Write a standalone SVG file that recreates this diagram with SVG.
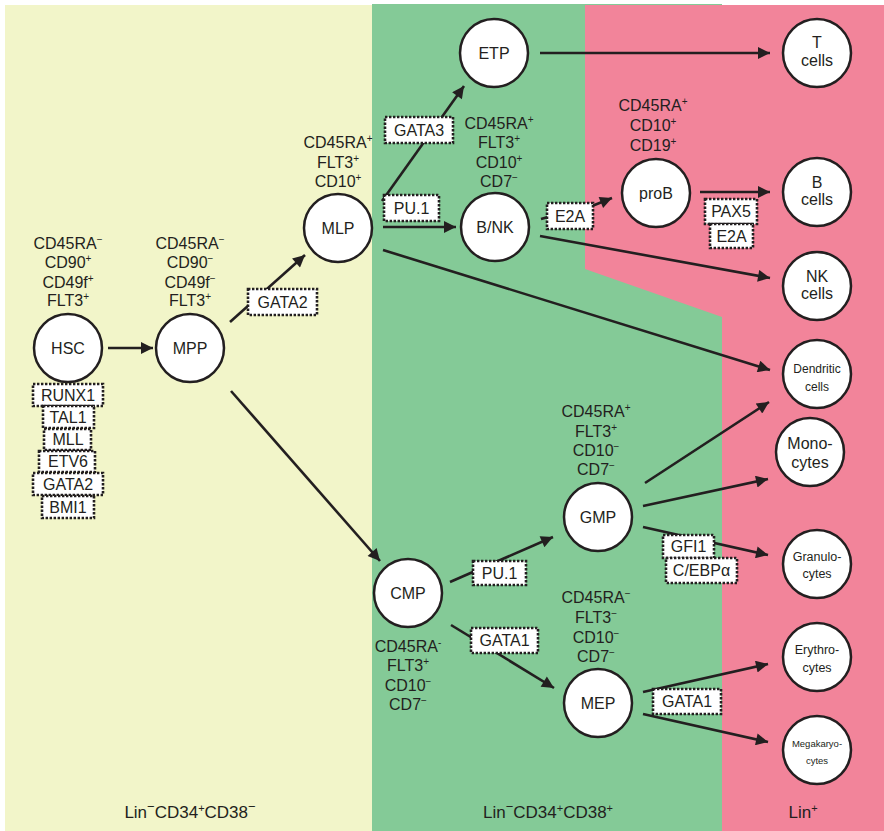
<svg xmlns="http://www.w3.org/2000/svg" width="884" height="831" viewBox="0 0 884 831">
<defs>
<style>
text{font-family:"Liberation Sans",Arial,sans-serif;fill:#231f20;text-anchor:middle;}
.m{font-size:16px;}
.sp{font-size:10px;}
.n{font-size:16px;}
.node{fill:#fff;stroke:#231f20;stroke-width:2.5;}
.c{stroke:#231f20;stroke-width:2.6;fill:none;}
.a{marker-end:url(#ah);}
.tf rect{fill:#fff;stroke:#231f20;stroke-width:2.6;stroke-dasharray:2.4 1.6;}
.tf text{font-size:16px;}
.b{font-size:17px;}
</style>
<marker id="ah" viewBox="0 0 10 10" refX="10" refY="5" markerWidth="15" markerHeight="12" markerUnits="userSpaceOnUse" orient="auto"><path d="M0,0 L10,5 L0,10 z" fill="#231f20"/></marker>
</defs>
<g id="background">
<rect x="0" y="0" width="884" height="831" fill="#ffffff"/>
<rect x="5" y="5" width="367" height="826" fill="#f2f5c9"/>
<rect x="372" y="4" width="350" height="827" fill="#84ca97"/>
<polygon points="585,5 884,5 884,831 722,831 722,317 585,269" fill="#f2849a"/>
</g>
<g id="connectors">
<line class="c a" x1="108" y1="348" x2="153" y2="348"/>
<line class="c a" x1="230" y1="322" x2="305" y2="255"/>
<line class="c a" x1="231" y1="391" x2="380" y2="561"/>
<line class="c a" x1="382" y1="201" x2="464" y2="86"/>
<line class="c a" x1="383" y1="227" x2="456" y2="227"/>
<line class="c a" x1="383" y1="250" x2="770" y2="370"/>
<line class="c a" x1="540" y1="53" x2="770" y2="53"/>
<line class="c" x1="541" y1="219" x2="548" y2="217"/>
<line class="c a" x1="592" y1="206" x2="612" y2="198"/>
<line class="c a" x1="540" y1="236" x2="770" y2="278"/>
<line class="c a" x1="700" y1="192" x2="770" y2="192"/>
<line class="c a" x1="450" y1="582" x2="553" y2="537"/>
<line class="c a" x1="451" y1="625" x2="554" y2="688"/>
<line class="c a" x1="645" y1="483" x2="769" y2="402"/>
<line class="c a" x1="643" y1="506" x2="768" y2="479"/>
<line class="c a" x1="643" y1="527" x2="768" y2="555"/>
<line class="c a" x1="643" y1="692" x2="768" y2="664"/>
<line class="c a" x1="643" y1="714" x2="768" y2="742"/>
</g>
<g id="tf-labels">
<g class="tf" id="tf-hsc">
<rect x="33" y="384" width="70" height="22"/><text x="68" y="401">RUNX1</text>
<rect x="43" y="406" width="51" height="22"/><text x="68" y="423">TAL1</text>
<rect x="44" y="429" width="47" height="21"/><text x="68" y="445">MLL</text>
<rect x="39" y="451" width="56" height="21"/><text x="68" y="467">ETV6</text>
<rect x="33" y="473" width="70" height="22"/><text x="68" y="490">GATA2</text>
<rect x="42" y="496" width="52" height="22"/><text x="68" y="513">BMI1</text>
</g>
<g class="tf" id="tf-gata2"><rect x="248" y="289" width="69" height="26"/><text x="282.5" y="308">GATA2</text></g>
<g class="tf" id="tf-gata3"><rect x="385" y="117" width="68" height="26"/><text x="419" y="136">GATA3</text></g>
<g class="tf" id="tf-pu1a"><rect x="384" y="195" width="55" height="26"/><text x="411.5" y="214">PU.1</text></g>
<g class="tf" id="tf-e2a"><rect x="547" y="203" width="46" height="26"/><text x="570" y="222">E2A</text></g>
<g class="tf" id="tf-pax5"><rect x="705" y="199" width="52" height="25"/><text x="731" y="217">PAX5</text>
<rect x="710" y="224" width="43" height="24"/><text x="731.5" y="242">E2A</text></g>
<g class="tf" id="tf-pu1b"><rect x="473" y="561" width="53" height="24"/><text x="499.5" y="579">PU.1</text></g>
<g class="tf" id="tf-gata1a"><rect x="471" y="628" width="67" height="25"/><text x="504.5" y="646">GATA1</text></g>
<g class="tf" id="tf-gfi1"><rect x="663" y="535" width="51" height="23"/><text x="688.5" y="552">GFI1</text>
<rect x="666" y="558" width="71" height="25"/><text x="701.5" y="576">C/EBPα</text></g>
<g class="tf" id="tf-gata1b"><rect x="653" y="689" width="68" height="25"/><text x="687" y="707">GATA1</text></g>
</g>
<g id="HSC">
<circle class="node" cx="68" cy="348" r="34"/><text class="n" x="68" y="354">HSC</text>
<text class="m" x="68" y="249">CD45RA<tspan class="sp" dy="-6">−</tspan></text>
<text class="m" x="68" y="268">CD90<tspan class="sp" dy="-6">+</tspan></text>
<text class="m" x="68" y="288">CD49f<tspan class="sp" dy="-6">+</tspan></text>
<text class="m" x="68" y="306">FLT3<tspan class="sp" dy="-6">+</tspan></text>
</g>
<g id="MPP">
<circle class="node" cx="190" cy="348" r="34"/><text class="n" x="190" y="354">MPP</text>
<text class="m" x="190" y="249">CD45RA<tspan class="sp" dy="-6">−</tspan></text>
<text class="m" x="190" y="268">CD90<tspan class="sp" dy="-6">−</tspan></text>
<text class="m" x="190" y="288">CD49f<tspan class="sp" dy="-6">−</tspan></text>
<text class="m" x="190" y="306">FLT3<tspan class="sp" dy="-6">+</tspan></text>
</g>
<g id="MLP">
<circle class="node" cx="338" cy="228" r="34"/><text class="n" x="338" y="234">MLP</text>
<text class="m" x="338" y="148">CD45RA<tspan class="sp" dy="-6">+</tspan></text>
<text class="m" x="338" y="168">FLT3<tspan class="sp" dy="-6">+</tspan></text>
<text class="m" x="338" y="187">CD10<tspan class="sp" dy="-6">+</tspan></text>
</g>
<g id="ETP">
<circle class="node" cx="494" cy="53" r="34"/><text class="n" x="494" y="59">ETP</text>
</g>
<g id="BNK">
<circle class="node" cx="495" cy="227" r="34"/><text class="n" x="495" y="233">B/NK</text>
<text class="m" x="499" y="129">CD45RA<tspan class="sp" dy="-6">+</tspan></text>
<text class="m" x="499" y="148">FLT3<tspan class="sp" dy="-6">+</tspan></text>
<text class="m" x="499" y="168">CD10<tspan class="sp" dy="-6">+</tspan></text>
<text class="m" x="499" y="187">CD7<tspan class="sp" dy="-6">−</tspan></text>
</g>
<g id="proB">
<circle class="node" cx="656" cy="193" r="34"/><text class="n" x="656" y="199">proB</text>
<text class="m" x="653" y="111">CD45RA<tspan class="sp" dy="-6">+</tspan></text>
<text class="m" x="653" y="131">CD10<tspan class="sp" dy="-6">+</tspan></text>
<text class="m" x="653" y="151">CD19<tspan class="sp" dy="-6">+</tspan></text>
</g>
<g id="CMP">
<circle class="node" cx="408" cy="593" r="34"/><text class="n" x="408" y="599">CMP</text>
<text class="m" x="408" y="652">CD45RA<tspan class="sp" dy="-6">-</tspan></text>
<text class="m" x="408" y="671">FLT3<tspan class="sp" dy="-6">+</tspan></text>
<text class="m" x="408" y="691">CD10<tspan class="sp" dy="-6">−</tspan></text>
<text class="m" x="408" y="710">CD7<tspan class="sp" dy="-6">−</tspan></text>
</g>
<g id="GMP">
<circle class="node" cx="598" cy="517" r="34"/><text class="n" x="598" y="523">GMP</text>
<text class="m" x="596" y="417">CD45RA<tspan class="sp" dy="-6">+</tspan></text>
<text class="m" x="596" y="437">FLT3<tspan class="sp" dy="-6">+</tspan></text>
<text class="m" x="596" y="456">CD10<tspan class="sp" dy="-6">−</tspan></text>
<text class="m" x="596" y="475">CD7<tspan class="sp" dy="-6">−</tspan></text>
</g>
<g id="MEP">
<circle class="node" cx="598" cy="703" r="34"/><text class="n" x="598" y="709">MEP</text>
<text class="m" x="596" y="603">CD45RA<tspan class="sp" dy="-6">−</tspan></text>
<text class="m" x="596" y="623">FLT3<tspan class="sp" dy="-6">−</tspan></text>
<text class="m" x="596" y="643">CD10<tspan class="sp" dy="-6">−</tspan></text>
<text class="m" x="596" y="662">CD7<tspan class="sp" dy="-6">−</tspan></text>
</g>
<g id="Tcells"><circle class="node" cx="817" cy="53" r="34"/><text class="n" x="817" y="48">T</text><text class="n" x="817" y="66">cells</text></g>
<g id="Bcells"><circle class="node" cx="817" cy="192" r="34"/><text class="n" x="817" y="188">B</text><text class="n" x="817" y="205">cells</text></g>
<g id="NKcells"><circle class="node" cx="817" cy="286" r="34"/><text class="n" x="817" y="282">NK</text><text class="n" x="817" y="299">cells</text></g>
<g id="Dendritic"><circle class="node" cx="817" cy="374" r="34"/><text x="817" y="373" font-size="12">Dendritic</text><text x="817" y="391" font-size="12">cells</text></g>
<g id="Monocytes"><circle class="node" cx="810" cy="452" r="34"/><text class="n" x="810" y="449">Mono-</text><text class="n" x="810" y="468">cytes</text></g>
<g id="Granulocytes"><circle class="node" cx="817" cy="564" r="34"/><text x="817" y="561" font-size="12.5">Granulo-</text><text x="817" y="578" font-size="12.5">cytes</text></g>
<g id="Erythrocytes"><circle class="node" cx="817" cy="657" r="34"/><text x="817" y="654" font-size="12.5">Erythro-</text><text x="817" y="672" font-size="12.5">cytes</text></g>
<g id="Megakaryocytes"><circle class="node" cx="817" cy="750" r="34"/><text x="817" y="747" font-size="9.5">Megakaryo-</text><text x="817" y="764" font-size="9.5">cytes</text></g>
<g id="stage-labels">
<text class="b" x="190" y="818">Lin<tspan font-size="13" dy="-7">−</tspan><tspan dy="7">CD34</tspan><tspan font-size="11" dy="-6">+</tspan><tspan dy="6">CD38</tspan><tspan font-size="13" dy="-7">−</tspan></text>
<text class="b" x="548" y="818">Lin<tspan font-size="13" dy="-7">−</tspan><tspan dy="7">CD34</tspan><tspan font-size="11" dy="-6">+</tspan><tspan dy="6">CD38</tspan><tspan font-size="11" dy="-6">+</tspan></text>
<text class="b" x="803" y="818">Lin<tspan font-size="11" dy="-6">+</tspan></text>
</g>
</svg>
